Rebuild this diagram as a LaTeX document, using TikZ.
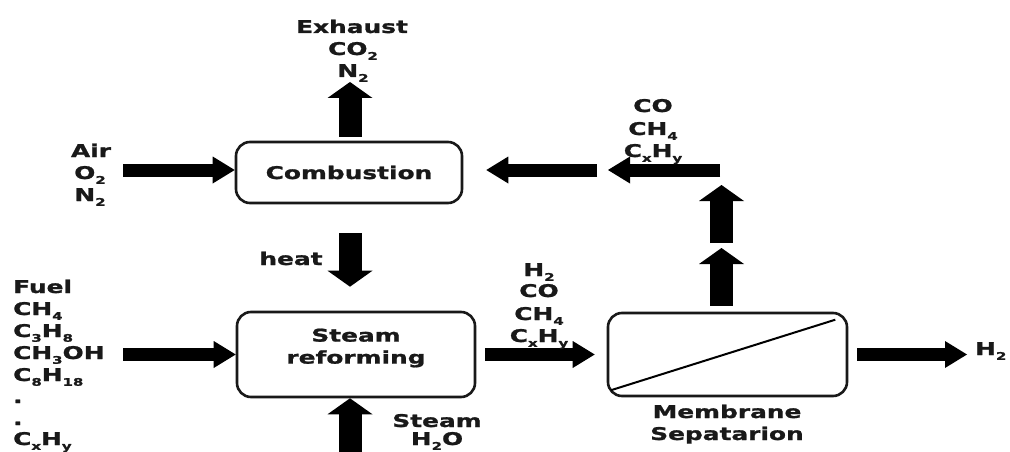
\documentclass[tikz,border=0pt]{standalone}
\usepackage{fontspec}
\newfontfamily\labfont{DejaVu Sans}[FakeStretch=1.42,FakeBold=1.2]
\usetikzlibrary{arrows.meta,calc}

% lowered small index for chemical formulas
\newcommand\lowsub[1]{\raisebox{-0.5ex}{\fontsize{10.5}{10.5}\selectfont #1}}

\tikzset{
  lab/.style={font=\labfont\bfseries\fontsize{17.5}{22}\selectfont, inner sep=0pt, text=black!90},
  procbox/.style={draw=black!90, line width=2.6pt, rounded corners=14pt, inner sep=0pt},
  harrow/.style={line width=13pt, -{Triangle[length=22pt,width=27pt,line width=0pt]}},
  varrow/.style={line width=23pt, -{Triangle[length=16pt,width=45pt,line width=0pt]}},
}

\begin{document}
\begin{tikzpicture}[x=1pt,y=-1pt]
\useasboundingbox[fill=white] (0,0) rectangle (1010,452);

% process units
\node[procbox, minimum width=226pt, minimum height=61pt] (comb) at (349,172.5) {};
\node[lab] (combtxt) at (comb.center) {Combustion};
\node[procbox, minimum width=238pt, minimum height=85pt] (ref) at (356,354.5) {};
\node[lab, align=center] (reftxt) at (356,348) {Steam\\reforming};
\node[procbox, minimum width=239pt, minimum height=83pt] (mem) at (727.5,354.5) {};
\draw[line width=2pt] ($(mem.south west)+(4,-7)$) -- ($(mem.north east)+(-13,8)$);

% free arrow ends
\coordinate (exhtip) at (350,82);
\coordinate (airtail) at (123,170);
\coordinate (fueltail) at (123,354.5);
\coordinate (steamtail) at (350,452);
\coordinate (h2tip) at (967,354.5);
\coordinate (up1) at (721.5,248);
\coordinate (up2tail) at (721.5,243);
\coordinate (up2tip) at (721.5,185);
\coordinate (rtail) at (720,170);
\coordinate (rtip) at (608,170);
\coordinate (ltail) at (597,170);

% streams
\draw[varrow, shorten <=4pt] (comb.north -| exhtip) -- (exhtip);
\draw[harrow] (airtail) -- (airtail -| comb.west);
\draw[harrow] (fueltail) -- (fueltail -| ref.west);
\draw[varrow, shorten <=29pt, shorten >=24pt] (comb.south -| exhtip) -- (ref.north -| exhtip);
\draw[varrow] (steamtail) -- (steamtail |- ref.south);
\draw[harrow, shorten <=9pt, shorten >=12pt] (ref.east) -- (mem.west);
\draw[harrow, shorten <=9pt] (mem.east) -- (h2tip);
\draw[varrow, shorten <=6pt] (mem.north -| up1) -- (up1);
\draw[varrow] (up2tail) -- (up2tip);
\draw[harrow] (rtail) -- (rtip);
\draw[harrow, shorten >=23pt] (ltail) -- (ltail -| comb.east);

% exhaust
\node[lab, anchor=base] (exh1) at (352,33) {Exhaust};
\node[lab, anchor=base] (exh2) at (353,55) {CO\lowsub2};
\node[lab, anchor=base] (exh3) at (353,77) {N\lowsub2};

% air
\node[lab, anchor=base] (air1) at (91,157) {Air};
\node[lab, anchor=base] (air2) at (90,179) {O\lowsub2};
\node[lab, anchor=base] (air3) at (90,201) {N\lowsub2};

% fuel list
\node[lab, anchor=base west] (fuel1) at (13,293) {Fuel};
\node[lab, anchor=base west] (fuel2) at (13,315) {CH\lowsub4};
\node[lab, anchor=base west] (fuel3) at (13,337) {C\lowsub3H\lowsub8};
\node[lab, anchor=base west] (fuel4) at (13,359) {CH\lowsub3OH};
\node[lab, anchor=base west] (fuel5) at (13,381) {C\lowsub8H\lowsub{18}};
\node[lab, anchor=base west] (fuel6) at (13,403) {.};
\node[lab, anchor=base west] (fuel7) at (13,425) {.};
\node[lab, anchor=base west] (fuel8) at (13,445) {C\lowsub{x}H\lowsub{y}};

% heat and steam
\node[lab, anchor=base] (heat) at (291,265) {heat};
\node[lab, anchor=base] (steam1) at (437,427) {Steam};
\node[lab, anchor=base] (steam2) at (437,445) {H\lowsub2O};

% reformer product
\node[lab, anchor=base] (prod1) at (539,276) {H\lowsub2};
\node[lab, anchor=base] (prod2) at (539,297) {CO};
\node[lab, anchor=base] (prod3) at (539,320) {CH\lowsub4};
\node[lab, anchor=base] (prod4) at (539,342) {C\lowsub{x}H\lowsub{y}};

% retentate
\node[lab, anchor=base] (ret1) at (653,112) {CO};
\node[lab, anchor=base] (ret2) at (653,135) {CH\lowsub4};
\node[lab, anchor=base] (ret3) at (653,157) {C\lowsub{x}H\lowsub{y}};

% membrane label and permeate
\node[lab, anchor=base] (mem1) at (727,418) {Membrane};
\node[lab, anchor=base] (mem2) at (727,440) {Sepatarion};
\node[lab, anchor=base west] (h2) at (975,355) {H\lowsub2};
\end{tikzpicture}
\end{document}
